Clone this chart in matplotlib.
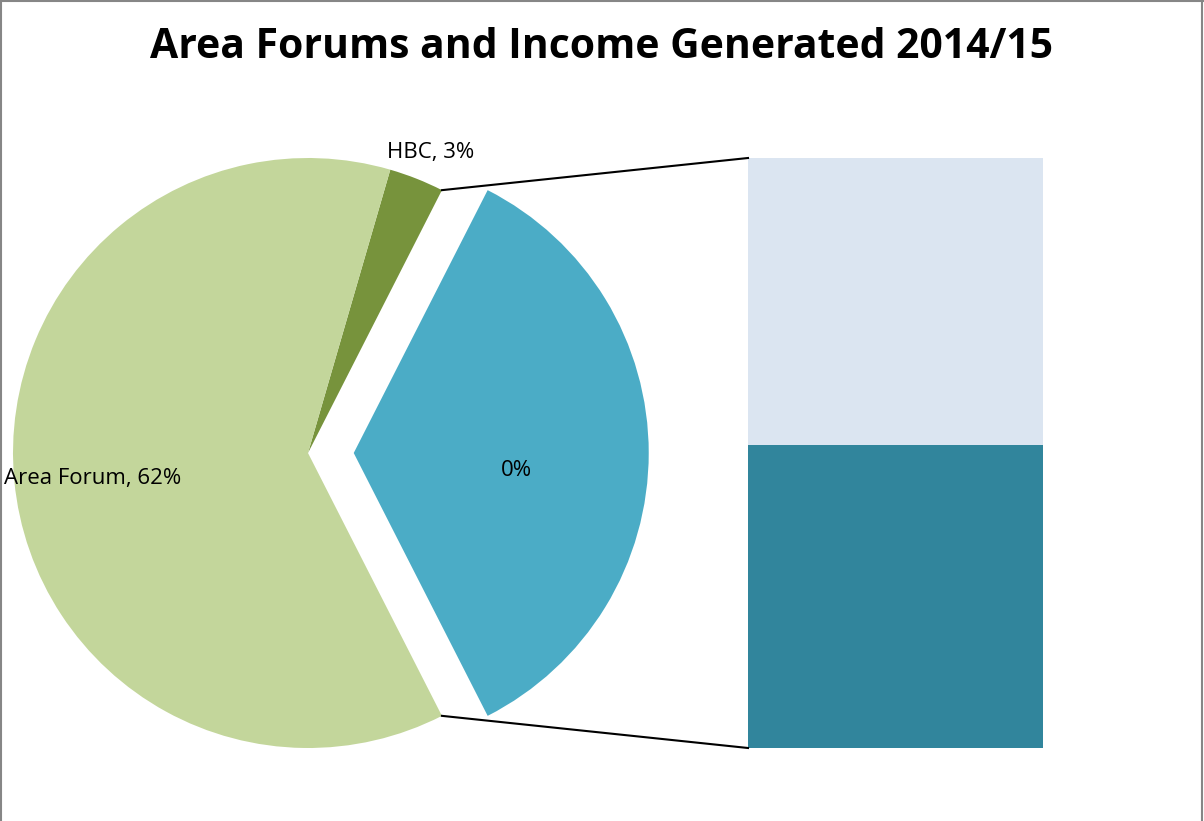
import numpy as np
import matplotlib
matplotlib.use('Agg')
import matplotlib.pyplot as plt
from matplotlib.lines import Line2D

# pie data (order: exploded "other" slice first, then counter-clockwise)
pie_labels = ['Other', 'HBC', 'Area Forum']
pie_values = [35, 3, 62]
pie_colors = ['#4BACC6', '#77933C', '#C3D69B']
pie_texts = ['0%', 'HBC, 3%', 'Area Forum, 62%']

# breakdown of the "other" slice shown in the bar
bar_values = [18, 17]          # bottom, top
bar_colors = ['#31859C', '#DBE5F1']

title = 'Area Forums and Income Generated 2014/15'

plt.rcParams['font.family'] = ['Open Sans', 'DejaVu Sans']

fig = plt.figure(figsize=(12.04, 8.21), dpi=100)
ax = fig.add_axes([0, 0, 1, 1])

# 1 data unit = pie radius (295 px); pie centre at pixel (308, 453)
px = 295.0
cx, cy = 308.0, 453.0

other_share = pie_values[0] / sum(pie_values)
start = -other_share * 360 / 2
ax.pie(pie_values, colors=pie_colors, startangle=start, counterclock=True,
       explode=[0.155, 0, 0], radius=1, center=(0, 0),
       wedgeprops=dict(linewidth=0))

# stacked bar for the "other" slice, scaled to the pie diameter
bar_x = (748 - cx) / px
bar_w = (1043 - 748) / px
scale = 2.0 / sum(bar_values)
bottom = -1.0
for v, c in zip(bar_values, bar_colors):
    ax.bar(bar_x, v * scale, width=bar_w, bottom=bottom, color=c,
           align='edge', linewidth=0)
    bottom += v * scale

# connector lines from the pie edge to the bar corners
a1 = np.radians(start + other_share * 360)
a0 = np.radians(start)
ax.plot([np.cos(a1), bar_x], [np.sin(a1), 1.0], color='black', lw=1.5)
ax.plot([np.cos(a0), bar_x], [np.sin(a0), -1.0], color='black', lw=1.5)

# data labels
ax.text(0.705, -0.06, pie_texts[0], ha='center', va='center', fontsize=16)
ax.text(0.414, 1.02, pie_texts[1], ha='center', va='center', fontsize=16)
ax.text(-0.729, -0.085, pie_texts[2], ha='center', va='center', fontsize=16)

ax.set_xlim(-cx / px, (1204 - cx) / px)
ax.set_ylim((cy - 821) / px, cy / px)
ax.set_aspect('auto')
ax.axis('off')

fig.text(0.5, 1 - 47 / 821, title, ha='center', va='center',
         fontsize=29.4, fontweight='bold')

# chart area border (top, left, right)
for xs, ys in [([0, 1], [0.999, 0.999]), ([0.001, 0.001], [0, 1]),
               ([0.998, 0.998], [0, 1])]:
    fig.add_artist(Line2D(xs, ys, color='#868686', lw=1.5,
                          transform=fig.transFigure))

fig.savefig('out.png', dpi=100, facecolor='white')
